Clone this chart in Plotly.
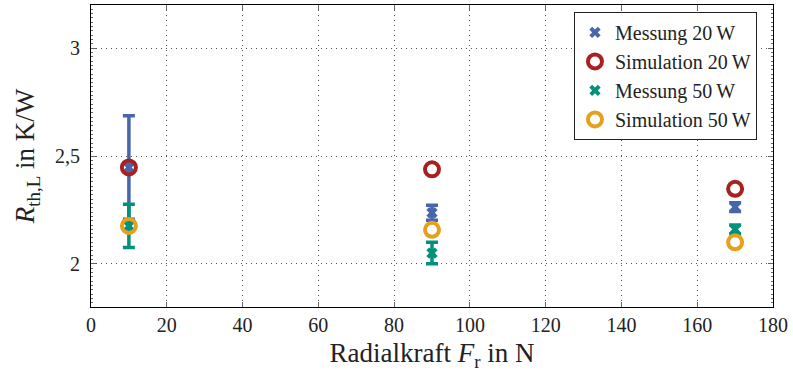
import plotly.graph_objects as go

x_vals = [10, 90, 170]
mess20 = [2.447, 2.237, 2.263]
mess20_err = [0.24, 0.035, 0.02]
sim20 = [2.447, 2.438, 2.348]
mess50 = [2.176, 2.05, 2.16]
mess50_err = [0.10, 0.05, 0.02]
sim50 = [2.176, 2.158, 2.10]

blue = "#4766AC"
red = "#A8201F"
teal = "#00927B"
orange = "#E5A01E"
FONT = "Liberation Serif, Times New Roman, serif"

fig = go.Figure()
fig.add_trace(go.Scatter(
    x=x_vals, y=mess20, mode="markers", name="Messung 20\u2009W",
    marker=dict(symbol="x", size=10, color=blue, line=dict(width=0)),
    error_y=dict(type="data", array=mess20_err, color=blue, thickness=3.5, width=6)))
fig.add_trace(go.Scatter(
    x=x_vals, y=sim20, mode="markers", name="Simulation 20\u2009W",
    marker=dict(symbol="circle-open", size=14, color=red, line=dict(width=4, color=red))))
fig.add_trace(go.Scatter(
    x=x_vals, y=mess50, mode="markers", name="Messung 50\u2009W",
    marker=dict(symbol="x", size=10, color=teal, line=dict(width=0)),
    error_y=dict(type="data", array=mess50_err, color=teal, thickness=3.5, width=6)))
fig.add_trace(go.Scatter(
    x=x_vals, y=sim50, mode="markers", name="Simulation 50\u2009W",
    marker=dict(symbol="circle-open", size=14, color=orange, line=dict(width=4, color=orange))))

axis_common = dict(
    showline=True, linecolor="#000", linewidth=1, mirror="ticks",
    ticks="inside", ticklen=5, tickcolor="#666",
    showgrid=True, gridcolor="#555", griddash="1px,4px", gridwidth=1,
    zeroline=False, tickfont=dict(family=FONT, size=20, color="#222"),
)

fig.update_xaxes(range=[0, 180], tickvals=[0, 20, 40, 60, 80, 100, 120, 140, 160, 180],
                 title=dict(text="Radialkraft <i>F</i><sub>r</sub> in N",
                            font=dict(family=FONT, size=27, color="#222"), standoff=8),
                 **axis_common)
fig.update_yaxes(range=[1.8, 3.2], tickvals=[2, 2.5, 3], ticktext=["2", "2,5", "3"],
                 ticklabelstandoff=6,
                 minor=dict(ticks="inside", ticklen=2, dtick=0.02, tickcolor="#666", showgrid=False),
                 title=dict(text="<i>R</i><sub>th,L</sub> in K/W",
                            font=dict(family=FONT, size=27, color="#222"), standoff=12),
                 **axis_common)

fig.update_layout(
    width=793, height=376,
    margin=dict(l=91, r=20, t=5, b=69),
    plot_bgcolor="white", paper_bgcolor="white",
    separators=",.",
    font=dict(family=FONT, color="#222"),
    showlegend=True,
    legend=dict(x=0.9765, y=0.977, xanchor="right", yanchor="top",
                bgcolor="white", bordercolor="#222", borderwidth=1,
                font=dict(family=FONT, size=20, color="#222"),
                itemsizing="trace", tracegroupgap=0, itemwidth=30),
)

fig.write_html("out.html")
